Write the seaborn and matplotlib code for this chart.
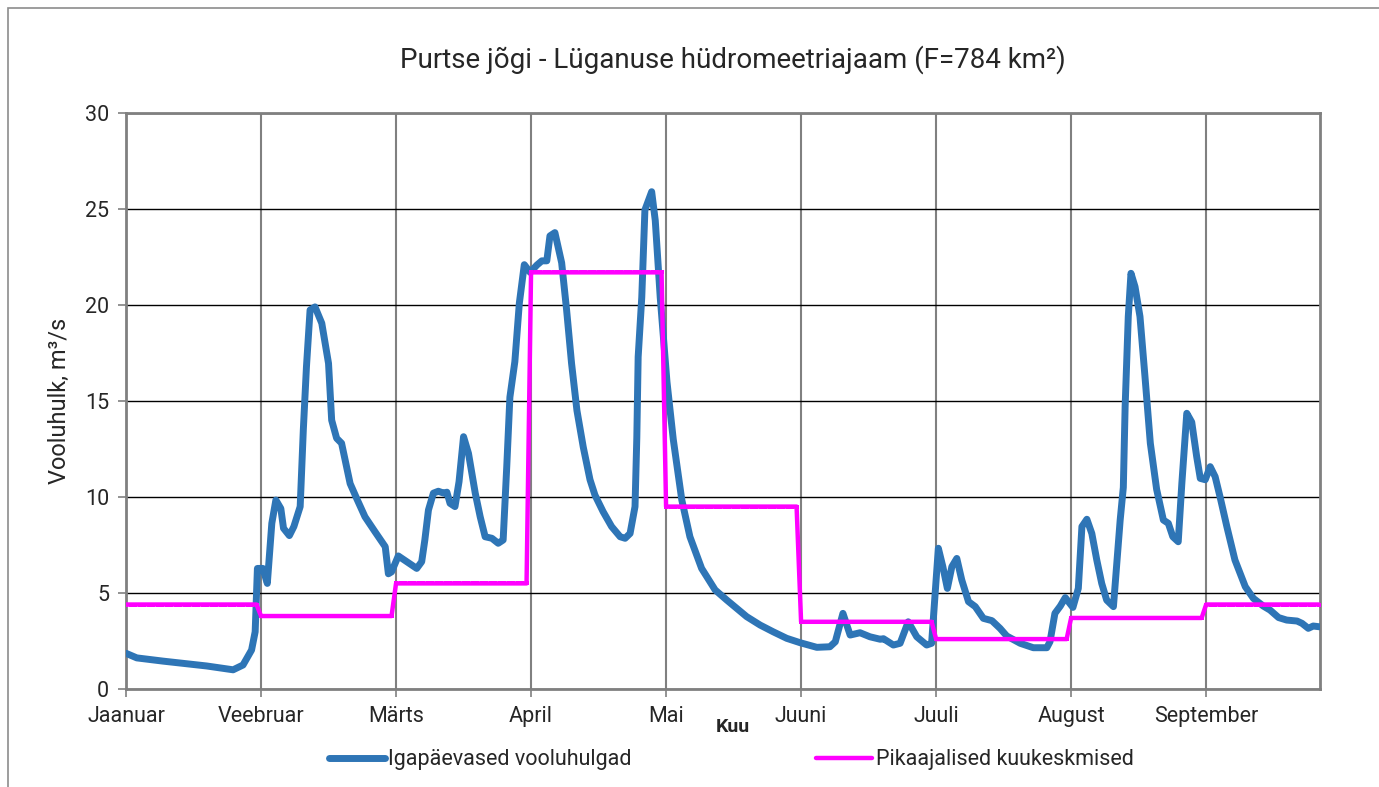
import matplotlib
matplotlib.use("Agg")
from matplotlib import pyplot as plt
from matplotlib.patches import Rectangle
import numpy as np
import pandas as pd
import seaborn as sns

# daily discharge (day index from 1 Jan, m3/s)
days = [0, 2.4, 8.3, 17.9, 23.8, 26, 27.9, 28.7, 29.2, 30.4, 31.4, 32.4, 33.3, 34.4, 35,
        36.3, 37.3, 38.7, 39.4, 40.1, 40.9, 42, 43.5, 45, 45.7, 46.8, 47.9, 49.8, 51.3,
        53.1, 55.3, 57.6, 58.3, 59, 60.5, 62.4, 64.6, 65.7, 66.4, 67.2, 68.3, 69.4, 70.6,
        71.3, 72, 73.1, 74, 75, 76.1, 77.6, 78.7, 79.8, 81.3, 82.7, 83.8, 84.6, 85.3,
        86.4, 87.4, 88.5, 89.8, 91.3, 92.4, 93.5, 94.2, 95.3, 96.8, 97.9, 99, 100.2,
        101.6, 103.1, 104.2, 106, 107.9, 109.8, 110.9, 112, 113.1, 113.5, 113.8, 114.6,
        115.3, 116.8, 117.6, 118.7, 120.2, 121.6, 123.5, 125.3, 127.9, 130.9, 133.5,
        135.7, 137.9, 140.9, 143.8, 146.8, 149.8, 153.5, 156.4, 157.6, 159.3, 160.9,
        163.1, 165.3, 167.6, 168.3, 170.5, 172, 173.8, 175.7, 177.9, 179, 180.5, 181.5,
        182.5, 183.5, 184.6, 185.7, 187.2, 188.7, 190.5, 192.4, 194.2, 195.7, 198.7,
        201.6, 204.6, 205.3, 206.4, 207.6, 208.7, 210.4, 211.6, 212.4, 213.5, 214.6,
        215.7, 216.8, 217.9, 219.4, 220.1, 220.9, 221.6, 222, 222.7, 223.3, 224.2,
        225.3, 226.4, 227.6, 229, 230.5, 231.6, 232.6, 233.8, 234.6, 235.7, 236.8,
        237.9, 238.7, 239.8, 240.9, 242, 243.1, 244.6, 246.4, 248.7, 250.5, 252.7,
        254.2, 256.1, 257.9, 260.2, 261.3, 262.7, 263.8, 265.2]
flow = [1.86, 1.62, 1.45, 1.2, 1.0, 1.25, 2.03, 2.98, 6.28, 6.28, 5.5, 8.63, 9.84, 9.4, 8.37,
        7.99, 8.46, 9.5, 13.5, 16.8, 19.74, 19.9, 19.05, 16.96, 14.0, 13.06, 12.8, 10.7, 9.9,
        8.97, 8.2, 7.41, 6.0, 6.1, 6.93, 6.63, 6.28, 6.63, 7.76, 9.32, 10.2, 10.3, 10.2,
        10.25, 9.67, 9.5, 10.8, 13.14, 12.27, 10.2, 8.97, 7.93, 7.85, 7.59, 7.76, 11.58, 15.2,
        17.05, 20.1, 22.1, 21.7, 22.08, 22.3, 22.3, 23.6, 23.77, 22.2, 19.74, 16.96, 14.5,
        12.6, 10.9, 10.1, 9.24, 8.46, 7.93, 7.85, 8.1, 9.5, 13.1, 17.3, 20.4,
        24.95, 25.9, 24.4, 20.4, 16.0, 13.0, 9.84, 7.93, 6.28, 5.16, 4.63,
        4.2, 3.77, 3.33, 2.98, 2.64, 2.41, 2.17, 2.2, 2.46, 3.94, 2.81,
        2.93, 2.72, 2.59, 2.62, 2.29, 2.38, 3.5, 2.72, 2.29, 2.38, 7.33, 6.37,
        5.24, 6.37, 6.8, 5.68, 4.55, 4.29, 3.68, 3.56, 3.16, 2.76, 2.38,
        2.15, 2.15, 2.46, 3.94, 4.32, 4.76, 4.25, 5.24, 8.46, 8.84, 8.1,
        6.72, 5.5, 4.63, 4.29, 6.37, 8.8, 10.5, 14.7, 19.4, 21.65, 20.95,
        19.4, 16.3, 12.8, 10.4, 8.8, 8.63, 7.93, 7.67, 10.7, 14.36, 13.9,
        12.1, 10.97, 10.9, 11.58, 11.06, 10.0, 8.46, 6.72, 5.33, 4.72, 4.32,
        4.11, 3.72, 3.59, 3.54, 3.42, 3.16, 3.28, 3.24]

# long-term monthly means
months = ["Jaanuar", "Veebruar", "Märts", "April", "Mai", "Juuni", "Juuli", "August", "September"]
month_mean = [4.4, 3.8, 5.5, 21.7, 9.5, 3.5, 2.6, 3.7, 4.4]

daily = pd.DataFrame({"day": days, "flow": flow})
n_days = 266
mean_df = pd.DataFrame({"day": np.arange(n_days),
                        "flow": np.repeat(month_mean, 30)[:n_days]})

sns.set_style("white")
plt.rcParams["font.family"] = ["Roboto", "DejaVu Sans"]

W, H = 1379, 787
fig = plt.figure(figsize=(W / 100, H / 100), dpi=100)
ax = fig.add_axes([126 / W, 1 - 689 / H, (1320 - 126) / W, (689 - 113) / H])

sns.lineplot(data=daily, x="day", y="flow", ax=ax, color="#2E75B6", lw=5,
             solid_capstyle="round", solid_joinstyle="round",
             label="Igapäevased vooluhulgad", zorder=3)
sns.lineplot(data=mean_df, x="day", y="flow", ax=ax, color="#FF00FF", lw=3.2,
             marker="s", markersize=3, markeredgewidth=0,
             label="Pikaajalised kuukeskmised", zorder=4)

ax.set_xlim(0, 265.3)
ax.set_ylim(0, 30)
ax.set_yticks(range(0, 31, 5))
ax.set_xticks(np.arange(len(months)) * 30)
ax.set_xticklabels(months)
ax.tick_params(axis="both", labelsize=15.5, length=6, width=1.2, color="#808080",
               direction="out", bottom=True, left=True)
ax.tick_params(axis="y", pad=6)
ax.tick_params(axis="x", pad=6)
ax.yaxis.grid(True, color="black", lw=1)
ax.xaxis.grid(True, color="#808080", lw=1.5)
ax.set_axisbelow(True)
for s in ax.spines.values():
    s.set_visible(True)
    s.set_color("#808080")
    s.set_linewidth(2)

ax.set_xlabel("")
ax.set_ylabel("Vooluhulk, m³/s", fontsize=17, labelpad=10)
fig.text(733 / W, 1 - 727 / H, "Kuu", fontsize=14, fontweight="bold",
         ha="center", va="center")
fig.text(733 / W, 1 - 60 / H, "Purtse jõgi - Lüganuse hüdromeetriajaam (F=784 km²)",
         fontsize=20, ha="center", va="center")

ax.get_legend().remove()
handles, labels = ax.get_legend_handles_labels()
fig.legend(handles, labels, loc="center", bbox_to_anchor=(731 / W, 1 - 760 / H), ncol=2,
           frameon=False, fontsize=15.5, handlelength=2.6, handletextpad=0.15,
           columnspacing=8.6)

fig.patches.append(Rectangle((8 / W, -0.02), 1.0, 1.02 - 8 / H, transform=fig.transFigure,
                             fill=False, edgecolor="#8c8c8c", lw=1.2))

fig.savefig("out.png", dpi=100)
